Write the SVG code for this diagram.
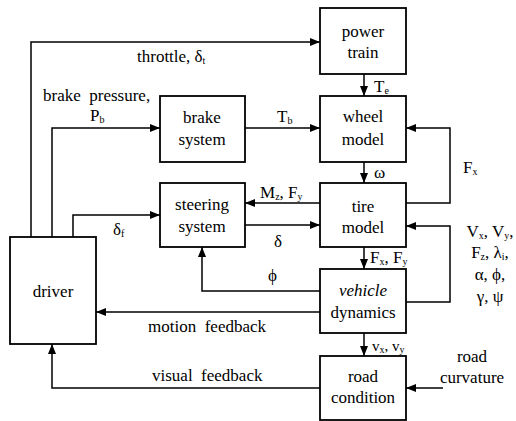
<svg xmlns="http://www.w3.org/2000/svg" width="516" height="421" viewBox="0 0 516 421">
<style>
.box{fill:#fff;stroke:#000;stroke-width:1.8}
.ln{fill:none;stroke:#000;stroke-width:1.5}
text{font-family:"Liberation Serif","Tinos","DejaVu Serif","Times New Roman",serif;font-size:17px;fill:#000}
.c{text-anchor:middle}
.s{font-size:10px}
.sm{font-size:15px}
</style>
<defs>
<marker id="ah" markerUnits="userSpaceOnUse" markerWidth="11" markerHeight="8" refX="10" refY="4" orient="auto">
<path d="M0,0 L10,4 L0,8 z" fill="#000"/>
</marker>
</defs>
<rect width="516" height="421" fill="#fff"/>
<g id="connectors">
<path class="ln" d="M31,237 V42 H320" marker-end="url(#ah)"/>
<path class="ln" d="M52,237 V128 H160" marker-end="url(#ah)"/>
<path class="ln" d="M73,237 V215 H160" marker-end="url(#ah)"/>
<path class="ln" d="M245,128 H320" marker-end="url(#ah)"/>
<path class="ln" d="M364,74 V96" marker-end="url(#ah)"/>
<path class="ln" d="M364,162 V183" marker-end="url(#ah)"/>
<path class="ln" d="M406,203 H450 V128 H406" marker-end="url(#ah)"/>
<path class="ln" d="M320,203 H245" marker-end="url(#ah)"/>
<path class="ln" d="M245,225 H320" marker-end="url(#ah)"/>
<path class="ln" d="M364,247 V269" marker-end="url(#ah)"/>
<path class="ln" d="M406,302 H450 V226 H406" marker-end="url(#ah)"/>
<path class="ln" d="M320,291 H202 V247" marker-end="url(#ah)"/>
<path class="ln" d="M320,312 H96" marker-end="url(#ah)"/>
<path class="ln" d="M364,333 V356" marker-end="url(#ah)"/>
<path class="ln" d="M320,388 H52 V344" marker-end="url(#ah)"/>
<path class="ln" d="M443,388 H406" marker-end="url(#ah)"/>
<text x="137" y="62">throttle, δ<tspan class="s" dy="2">t</tspan></text>
<text x="43" y="101" xml:space="preserve">brake  pressure,</text>
<text x="90" y="121">P<tspan class="s" dy="2">b</tspan></text>
<text x="277" y="122">T<tspan class="s" dy="2">b</tspan></text>
<text x="374" y="92">T<tspan class="s" dy="2">e</tspan></text>
<text x="374" y="178">ω</text>
<text x="260" y="198">M<tspan class="s" dy="2">z</tspan><tspan dy="-2">, F</tspan><tspan class="s" dy="2">y</tspan></text>
<text x="274" y="247">δ</text>
<text x="370" y="263">F<tspan class="s" dy="2">x</tspan><tspan dy="-2">, F</tspan><tspan class="s" dy="2">y</tspan></text>
<text x="268" y="281">ϕ</text>
<text x="113" y="235">δ<tspan class="s" dy="2">f</tspan></text>
<text x="463" y="173">F<tspan class="s" dy="2">x</tspan></text>
<text class="c" x="490" y="237">V<tspan class="s" dy="2">x</tspan><tspan dy="-2">, V</tspan><tspan class="s" dy="2">y</tspan><tspan dy="-2">,</tspan></text>
<text class="c" x="490" y="258">F<tspan class="s" dy="2">z</tspan><tspan dy="-2">, λ</tspan><tspan class="s" dy="2">i</tspan><tspan dy="-2">,</tspan></text>
<text class="c" x="490" y="280">α, ϕ,</text>
<text class="c" x="490" y="302">γ, ψ</text>
<text x="148" y="332" xml:space="preserve">motion  feedback</text>
<text x="152" y="381" xml:space="preserve">visual  feedback</text>
<text class="sm" x="372" y="351">v<tspan class="s" dy="2">x</tspan><tspan dy="-2">, v</tspan><tspan class="s" dy="2">y</tspan></text>
<text class="c" x="472" y="362">road</text>
<text class="c" x="472" y="383">curvature</text>
</g>
<g id="power-train"><rect class="box" x="320" y="8" width="86" height="66"/><text class="c" x="363" y="37">power</text><text class="c" x="363" y="58">train</text></g>
<g id="wheel-model"><rect class="box" x="320" y="96" width="86" height="66"/><text class="c" x="363" y="122">wheel</text><text class="c" x="363" y="145">model</text></g>
<g id="brake-system"><rect class="box" x="160" y="96" width="85" height="66"/><text class="c" x="202" y="123">brake</text><text class="c" x="202" y="145">system</text></g>
<g id="steering-system"><rect class="box" x="160" y="183" width="85" height="64"/><text class="c" x="202" y="210">steering</text><text class="c" x="202" y="232">system</text></g>
<g id="tire-model"><rect class="box" x="320" y="183" width="86" height="64"/><text class="c" x="363" y="212">tire</text><text class="c" x="363" y="233">model</text></g>
<g id="vehicle-dynamics"><rect class="box" x="320" y="269" width="86" height="64"/><text class="c" x="363" y="296" font-style="italic">vehicle</text><text class="c" x="363" y="318">dynamics</text></g>
<g id="road-condition"><rect class="box" x="320" y="356" width="86" height="64"/><text class="c" x="363" y="382">road</text><text class="c" x="363" y="403">condition</text></g>
<g id="driver"><rect class="box" x="10" y="237" width="86" height="107"/><text class="c" x="53" y="297">driver</text></g>
</svg>
